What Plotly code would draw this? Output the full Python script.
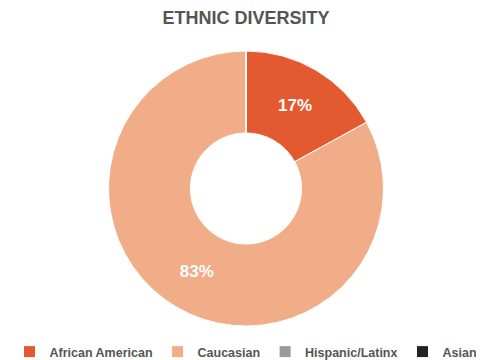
import plotly.graph_objects as go

labels = ["African American", "Caucasian", "Hispanic/Latinx", "Asian"]
values = [17, 83, 0, 0]
colors = ["#E35A30", "#F1AC88", "#9A9A9A", "#222222"]

FONT = "Liberation Sans, Arial"

# page body adds an 8px offset, so the figure is 8px smaller than the window
W, H = 476, 352

fig = go.Figure(go.Pie(
    labels=labels,
    values=values,
    hole=0.404,
    sort=False,
    direction="clockwise",
    rotation=0,
    domain=dict(x=[100 / W, 376 / W], y=[1 - 318 / H, 1 - 43 / H]),
    marker=dict(colors=colors, line=dict(color="white", width=1)),
    texttemplate="<b>%{percent:.0%}</b>",
    textposition="inside",
    insidetextfont=dict(color="white", size=17, family=FONT),
    showlegend=True,
))

fig.update_layout(
    width=W, height=H,
    margin=dict(l=0, r=0, t=0, b=0, autoexpand=False),
    paper_bgcolor="white",
    title=dict(text="<b>ETHNIC DIVERSITY</b>", x=0.5, xref="container", xanchor="center",
               y=1 - 10 / H, yref="container", yanchor="middle",
               font=dict(size=18, color="#555555", family=FONT)),
    legend=dict(orientation="h", x=0.5, xref="paper", xanchor="center",
                y=1 - 344 / H, yref="paper", yanchor="middle",
                font=dict(size=12.5, color="#555555", family=FONT, weight="bold"),
                itemwidth=30, tracegroupgap=0),
    font=dict(family=FONT),
)

fig.write_html("out.html")
